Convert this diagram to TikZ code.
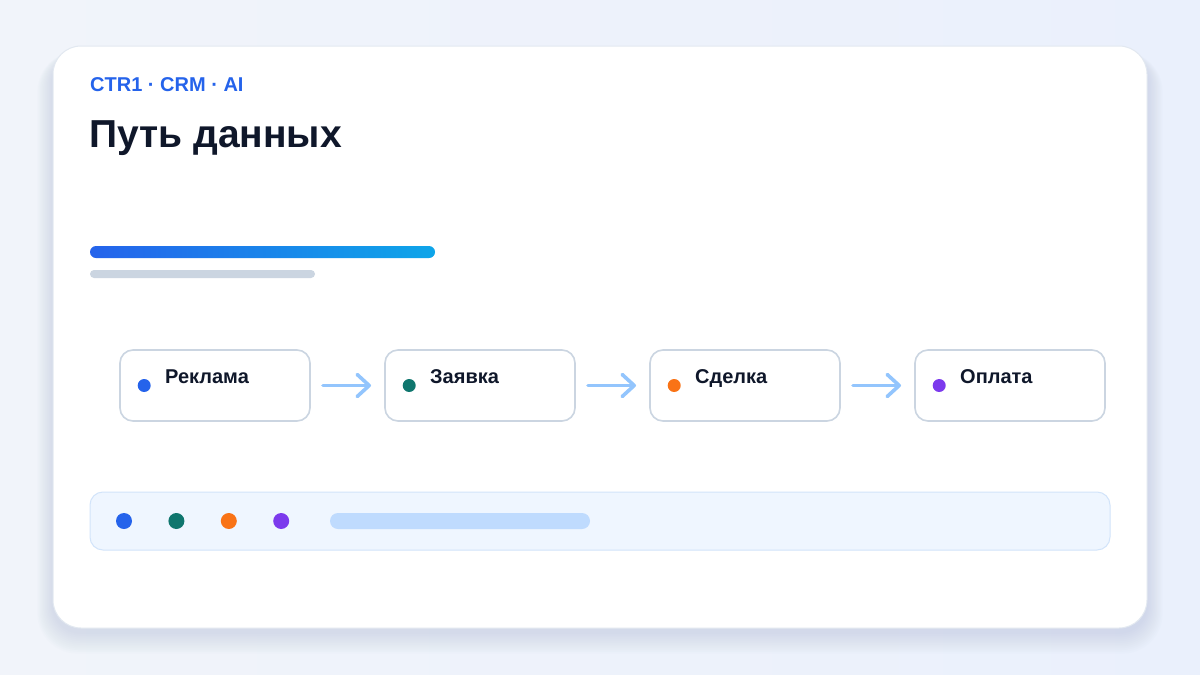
\documentclass[tikz,border=0pt]{standalone}
\usepackage{fontspec}
\setmainfont{Liberation Sans}
\usetikzlibrary{arrows.meta,positioning}
\definecolor{pagebg}{RGB}{241, 244, 250}
\definecolor{pagebgB}{RGB}{234, 240, 252}
\definecolor{cardline}{RGB}{226, 232, 240}
\definecolor{shadowcol}{RGB}{148, 163, 200}
\definecolor{accent}{RGB}{37, 99, 235}
\definecolor{accentB}{RGB}{14, 165, 233}
\definecolor{titlecol}{RGB}{15, 23, 42}
\definecolor{greybar}{RGB}{203, 213, 225}
\definecolor{boxline}{RGB}{203, 213, 225}
\definecolor{flowcol}{RGB}{147, 197, 253}
\definecolor{trayfill}{RGB}{239, 246, 255}
\definecolor{trayline}{RGB}{210, 228, 250}
\definecolor{traybar}{RGB}{191, 219, 254}
\definecolor{dotA}{RGB}{37, 99, 235}
\definecolor{dotB}{RGB}{15, 118, 110}
\definecolor{dotC}{RGB}{249, 115, 22}
\definecolor{dotD}{RGB}{124, 58, 237}
\begin{document}
\begin{tikzpicture}[x=1pt,y=-1pt,
  stepbox/.style={draw=boxline, line width=1.6pt, rounded corners=13pt, fill=white,
    minimum width=190pt, minimum height=71pt, inner sep=0pt, outer sep=0pt},
  stepdot/.style={circle, fill=#1, minimum size=13pt, inner sep=0pt},
  steplabel/.style={font=\fontsize{20pt}{20pt}\bfseries, text=titlecol, inner sep=0pt, anchor=base west},
  traydot/.style={circle, fill=#1, minimum size=16pt, inner sep=0pt},
  flow/.style={draw=flowcol, line width=3.6pt, line cap=round,
    -{Straight Barb[round, length=12pt, width=22pt]}}]
% page and card
\useasboundingbox (0,0) rectangle (1200,675);
\shade [left color=pagebg, right color=pagebgB] (0,0) rectangle (1200,675);
\foreach \s in {1,...,12}
  \fill [shadowcol, opacity=0.022, rounded corners=28pt+\s pt]
    (53-\s*1.3,46-\s*0.2+8) rectangle (1147+\s*1.3,628+\s*1.8+4);
\draw [cardline, fill=white, line width=1pt, rounded corners=28pt] (53,46) rectangle (1147,628);
% header
\node [text=accent, font=\fontsize{20pt}{20pt}\bfseries, inner sep=0pt, anchor=base west] (kicker) at (90,91) {CTR1 · CRM · AI};
\node [text=titlecol, font=\fontsize{39pt}{39pt}\bfseries, inner sep=0pt, anchor=base west] (title) at (89,147) {Путь данных};
\shade [left color=accent, right color=accentB, rounded corners=6pt] (90,246) rectangle (435,258);
\fill [greybar, rounded corners=4pt] (90,270) rectangle (315,278);
% steps
\node [stepbox] (ad) at (215,385.5) {};
\node [stepbox, right=75pt of ad] (lead) {};
\node [stepbox, right=75pt of lead] (deal) {};
\node [stepbox, right=75pt of deal] (pay) {};
\foreach \n/\c/\t in {ad/dotA/Реклама, lead/dotB/Заявка, deal/dotC/Сделка, pay/dotD/Оплата} {
  \node [stepdot=\c, right=17.5pt of \n.west] (\n-dot) {};
  \node [steplabel] (\n-label) at ([xshift=45pt, yshift=2.5pt]\n.west) {\t};
}
\draw [flow] ([xshift=13pt]ad.east) -- ([xshift=-14pt]lead.west);
\draw [flow] ([xshift=13pt]lead.east) -- ([xshift=-14pt]deal.west);
\draw [flow] ([xshift=13pt]deal.east) -- ([xshift=-14pt]pay.west);
% tray
\node [draw=trayline, fill=trayfill, line width=1pt, rounded corners=13pt,
  minimum width=1020pt, minimum height=58pt, inner sep=0pt] (tray) at (600,521) {};
\node [traydot=dotA] (tray-a) at (124,521) {};
\node [traydot=dotB, right=36pt of tray-a] (tray-b) {};
\node [traydot=dotC, right=36pt of tray-b] (tray-c) {};
\node [traydot=dotD, right=36pt of tray-c] (tray-d) {};
\fill [traybar, rounded corners=8pt] (330,513) rectangle (590,529);
\end{tikzpicture}
\end{document}
